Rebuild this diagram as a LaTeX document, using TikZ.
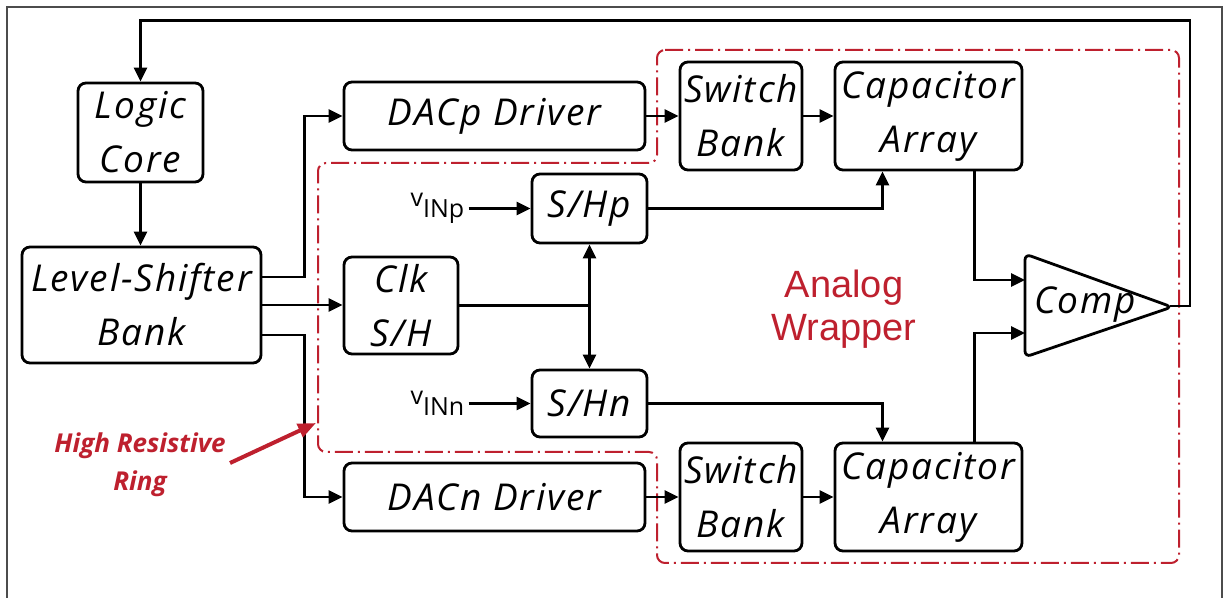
\documentclass[tikz,border=0pt]{standalone}
\usepackage{fontspec}
\setmainfont{Open Sans}
\newfontfamily\blockfont{Open Sans}[LetterSpace=5]
\newfontfamily\labelfont{Liberation Sans}
\usetikzlibrary{arrows.meta, positioning, calc}
\definecolor{ringred}{RGB}{190,32,46}

\begin{document}
\begin{tikzpicture}[
    x=0.5pt, y=-0.5pt,
    >={Triangle[length=7pt, width=6.5pt]},
    blk/.style={draw, line width=1.4pt, rounded corners=4pt, align=center,
        inner sep=0pt, font=\blockfont\fontsize{18.5}{27}\selectfont\itshape},
    sig/.style={->, line width=1.4pt},
    wire/.style={line width=1.4pt},
    ring/.style={draw=ringred, line width=1pt, rounded corners=4pt,
        dash pattern=on 9pt off 2.5pt on 1pt off 2.5pt},
    ringarrow/.style={-{Triangle[length=9pt, width=7pt]}, draw=ringred, line width=2pt},
]
    \useasboundingbox (0,0) rectangle (1227,598);
    % frame
    \draw[black!70, line width=0.7pt] (7,598) -- (7,7) -- (1222,7) -- (1222,598);
    % analog wrapper ring
    \draw[ring] (657,50) -- (1179,50) -- (1179,563) -- (657,563) -- (657,452)
        -- (318,452) -- (318,163) -- (657,163) -- cycle;
    % blocks
    \node[blk, minimum width=62.5pt, minimum height=49.5pt] (logic) at (140.5,132.5) {Logic\\Core};
    \node[blk, minimum width=119.5pt, minimum height=58pt] (lsb) at (141.5,305) {Level-Shifter\\Bank};
    \node[blk, minimum width=150.5pt, minimum height=34pt] (dacp) at (494.5,116) {DACp Driver};
    \node[blk, minimum width=150.5pt, minimum height=34pt] (dacn) at (494.5,497) {DACn Driver};
    \node[blk, minimum width=57pt, minimum height=48.5pt] (clk) at (401,305.5) {Clk\\S/H};
    \node[blk, minimum width=57.5pt, minimum height=34.5pt] (shp) at (589.5,208.5) {S/Hp};
    \node[blk, minimum width=57.5pt, minimum height=33.5pt] (shn) at (589.5,403.5) {S/Hn};
    \node[blk, minimum width=61pt, minimum height=54pt] (swp) at (741,116) {Switch\\Bank};
    \node[blk, minimum width=61pt, minimum height=54pt] (swn) at (741,497) {Switch\\Bank};
    \node[blk, minimum width=93.5pt, minimum height=54pt] (capp) at (928.5,116) {Capacitor\\Array};
    \node[blk, minimum width=93.5pt, minimum height=54pt] (capn) at (928.5,497) {Capacitor\\Array};
    % comparator
    \draw[line width=1.4pt, rounded corners=3pt] (1025,254) -- (1172,307) -- (1025,357) -- cycle;
    \node[font=\blockfont\fontsize{18.5}{27}\selectfont\itshape] (comp) at (1085,305) {Comp};
    \coordinate (compp) at (1025,280);
    \coordinate (compn) at (1025,333);
    \coordinate (compo) at (1170,306);
    % inputs
    \node[font=\fontsize{12.5}{14}\selectfont, anchor=east, inner sep=2pt] (vinp) at ([xshift=-31pt]shp.west) {v\raisebox{-5.5pt}{INp}};
    \node[font=\fontsize{12.5}{14}\selectfont, anchor=east, inner sep=2pt] (vinn) at ([xshift=-31pt]shn.west) {v\raisebox{-5.5pt}{INn}};
    % labels
    \node[font=\labelfont\fontsize{19}{21.5}\selectfont, text=ringred, align=center] (wrap) at (844,309) {Analog\\Wrapper};
    \node[font=\bfseries\itshape\fontsize{13}{19}\selectfont, text=ringred, align=center, inner sep=0pt] (hrr) at (140,465) {High Resistive\\Ring};
    \coordinate (ringpt) at (316,423);
    % connections
    \draw[sig] (logic.south) -- (logic.south |- lsb.north);
    \draw[sig] ([yshift=14pt]lsb.east) -- ++(21pt,0) |- (dacp.west);
    \draw[sig] (lsb.east) -- (lsb.east -| clk.west);
    \draw[sig] ([yshift=-15pt]lsb.east) -- ++(21pt,0) |- (dacn.west);
    \draw[sig] (dacp) -- (swp);
    \draw[sig] (swp) -- (capp);
    \draw[sig] (dacn) -- (swn);
    \draw[sig] (swn) -- (capn);
    \draw[sig] (vinp) -- (shp);
    \draw[sig] (vinn) -- (shn);
    \coordinate (clkjn) at (clk.east -| shp.south);
    \draw[wire] (clk.east) -- (clkjn);
    \draw[sig, <->] (shp.south) -- (shn.north);
    \draw[sig] (shp.east) -| ([xshift=-23pt]capp.south);
    \draw[sig] (shn.east) -| ([xshift=-23pt]capn.north);
    \draw[sig] ([xshift=23pt]capp.south) |- (compp);
    \draw[sig] ([xshift=23pt]capn.north) |- (compn);
    \draw[sig] (compo) -- ++(10pt,0) |- ([yshift=30.5pt]logic.north) -- (logic.north);
    \draw[ringarrow] ([xshift=2pt,yshift=1pt]hrr.east) -- (ringpt);
\end{tikzpicture}
\end{document}
